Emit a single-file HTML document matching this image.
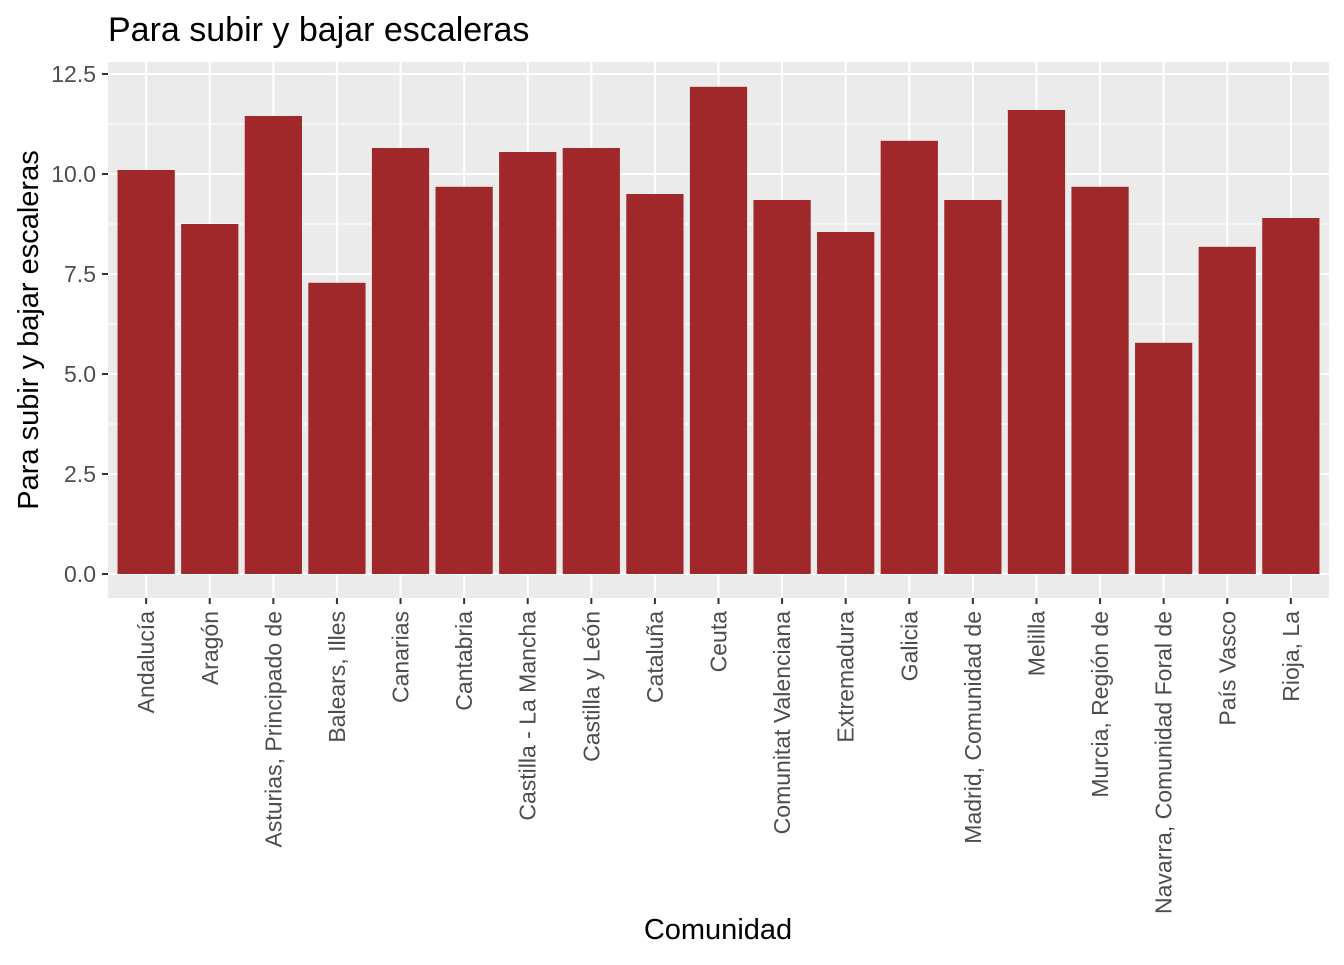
<!DOCTYPE html>
<html><head><meta charset="utf-8"><style>
body{margin:0;background:#fff;font-family:"Liberation Sans",Arial,sans-serif}
</style></head><body>
<svg id="chart" width="1344" height="960" xmlns="http://www.w3.org/2000/svg">
<text x="108" y="41" font-size="34" fill="#000">Para subir y bajar escaleras</text>
<rect x="108" y="62" width="1221" height="536" fill="#ebebeb"/>
<g id="grid"></g><g id="bars"></g><g id="axes"></g>
<text x="718" y="939" font-size="29" text-anchor="middle" fill="#000">Comunidad</text>
<text transform="translate(38,330) rotate(-90)" font-size="29" text-anchor="middle" fill="#000">Para subir y bajar escaleras</text>
</svg>
<script>
const categories=["Andalucía","Aragón","Asturias, Principado de","Balears, Illes","Canarias","Cantabria","Castilla - La Mancha","Castilla y León","Cataluña","Ceuta","Comunitat Valenciana","Extremadura","Galicia","Madrid, Comunidad de","Melilla","Murcia, Región de","Navarra, Comunidad Foral de","País Vasco","Rioja, La"];
const values=[10.1,8.75,11.45,7.28,10.65,9.68,10.55,10.65,9.5,12.18,9.35,8.55,10.83,9.35,11.6,9.68,5.78,8.18,8.9];
const yTicks=[0,2.5,5,7.5,10,12.5];
const yTickLabels=["0.0","2.5","5.0","7.5","10.0","12.5"];
const NS="http://www.w3.org/2000/svg";
const L=108,R=1329,T=62,B=598;
const y=v=>574-v*40;
const step=(R-L)/(categories.length+0.2);
const x=i=>L+step*(i+0.6);
const bw=step*0.9;
function mk(tag,attrs,parent){const e=document.createElementNS(NS,tag);for(const k in attrs)e.setAttribute(k,attrs[k]);parent.appendChild(e);return e;}
const grid=document.getElementById('grid'),bars=document.getElementById('bars'),axes=document.getElementById('axes');
for(let i=0;i<yTicks.length-1;i++){const m=(yTicks[i]+yTicks[i+1])/2;const g=mk('line',{x1:L,x2:R,y1:y(m),y2:y(m),stroke:'#fff','stroke-width':1},grid);

}
yTicks.forEach((t,i)=>{const g=mk('line',{x1:L,x2:R,y1:y(t),y2:y(t),stroke:'#fff','stroke-width':2},grid);


const tk=mk('line',{x1:L-6,x2:L,y1:y(t),y2:y(t),stroke:'#333','stroke-width':2},axes);


const tx=mk('text',{x:L-12,y:y(t)+8,'font-size':23,'text-anchor':'end',fill:'#4d4d4d'},axes);tx.textContent=yTickLabels[i];

});
categories.forEach((c,i)=>{const cx=x(i);
const g=mk('line',{x1:cx,x2:cx,y1:T,y2:B,stroke:'#fff','stroke-width':2},grid);


const r=mk('rect',{x:cx-bw/2,y:y(values[i]),width:bw,height:y(0)-y(values[i]),fill:'#a0282b'},bars);


const tk=mk('line',{x1:cx,x2:cx,y1:B,y2:B+6,stroke:'#333','stroke-width':2},axes);


const tx=mk('text',{transform:`translate(${cx+8},${B+13}) rotate(-90)`,'font-size':23,'text-anchor':'end',fill:'#4d4d4d'},axes);tx.textContent=c;

});
</script>
</body></html>
